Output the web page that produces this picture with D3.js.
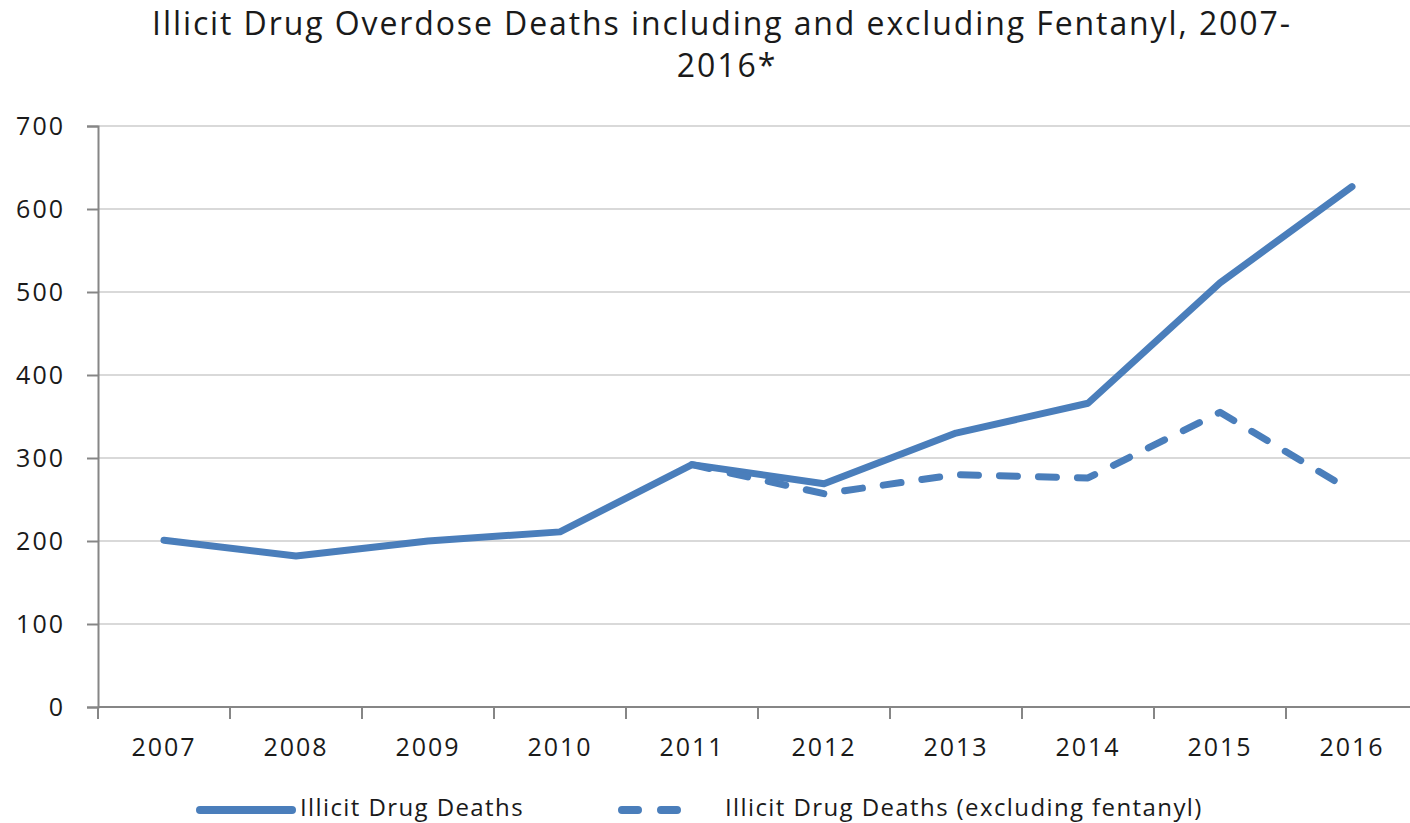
<!DOCTYPE html>
<html>
<head>
<meta charset="utf-8">
<script src="https://cdn.jsdelivr.net/npm/d3@7"></script>
<style>
  body { margin: 0; background: #fff; }
  text { font-family: "Open Sans", sans-serif; fill: #1a1a1a; }
</style>
</head>
<body>
<div id="chart"></div>
<script>
// Data.
const years = ['2007','2008','2009','2010','2011','2012','2013','2014','2015','2016'];
const allDeaths = [201, 182, 200, 211, 292, 269, 330, 366, 511, 627];
const exclFentanyl = [null, null, null, null, 292, 257, 280, 276, 355, 260];
const yTicks = [0, 100, 200, 300, 400, 500, 600, 700];
const titleLines = ['Illicit Drug Overdose Deaths including and excluding Fentanyl, 2007-', '2016*'];
const legendLabels = ['Illicit Drug Deaths', 'Illicit Drug Deaths (excluding fentanyl)'];

const width = 1410, height = 823;
const lineColor = '#4a7ebb';

let svg = d3.select('#chart')
.append('svg')
.attr('width', width)
.attr('height', height);

// Plot area.
let plot = {left: 98, right: 1418, top: 126, bottom: 707};

let x = d3.scaleBand()
.domain(years)
.range([plot.left, plot.right])
.padding(0);

let y = d3.scaleLinear()
.domain([0, 700])
.range([plot.bottom, plot.top]);

const cx = d => x(d) + x.bandwidth() / 2;

// Title.
svg.append('g')
.selectAll('text')
.data(titleLines)
.enter()
.append('text')
.attr('x', (d, i) => i === 0 ? 722 : 727)
.attr('y', (d, i) => i === 0 ? 35 : 77)
.attr('text-anchor', 'middle')
.style('font-size', '32px')
.style('letter-spacing', '1.9px')
.text(d => d);

// Gridlines.
svg.append('g')
.selectAll('line')
.data(yTicks.filter(t => t > 0))
.enter()
.append('line')
.attr('x1', plot.left)
.attr('x2', plot.right)
.attr('y1', d => y(d))
.attr('y2', d => y(d))
.attr('stroke', '#d9d9d9')
.attr('stroke-width', 2);

// Y axis.
let yAxis = svg.append('g')
.attr('transform', 'translate(' + plot.left + ',0)')
.call(d3.axisLeft(y).tickValues(yTicks).tickSize(11).tickPadding(22));
yAxis.selectAll('line, path').attr('stroke', '#868686').attr('stroke-width', 2);
yAxis.selectAll('text')
.style('font-size', '25px')
.style('letter-spacing', '2px')
.style('font-family', '"Open Sans", sans-serif')
.attr('fill', '#1a1a1a');

// X axis: tick marks at category boundaries.
let xAxis = svg.append('g')
.attr('transform', 'translate(0,' + plot.bottom + ')');
xAxis.append('line')
.attr('x1', plot.left)
.attr('x2', plot.right)
.attr('stroke', '#868686')
.attr('stroke-width', 2);
xAxis.selectAll('.tickmark')
.data(years)
.enter()
.append('line')
.attr('class', 'tickmark')
.attr('x1', d => x(d))
.attr('x2', d => x(d))
.attr('y1', 0)
.attr('y2', 12)
.attr('stroke', '#868686')
.attr('stroke-width', 2);
xAxis.selectAll('.label')
.data(years)
.enter()
.append('text')
.attr('class', 'label')
.attr('x', d => cx(d))
.attr('y', 49)
.attr('text-anchor', 'middle')
.style('font-size', '25px')
.style('letter-spacing', '2px')
.text(d => d);

// Lines.
let line = d3.line()
.defined(d => d.v !== null)
.x(d => cx(d.year))
.y(d => y(d.v));

svg.append('path')
.datum(years.map((yr, i) => ({year: yr, v: allDeaths[i]})))
.attr('d', line)
.attr('fill', 'none')
.attr('stroke', lineColor)
.attr('stroke-width', 7)
.attr('stroke-linecap', 'round')
.attr('stroke-linejoin', 'round');

svg.append('path')
.datum(years.map((yr, i) => ({year: yr, v: exclFentanyl[i]})))
.attr('d', line)
.attr('fill', 'none')
.attr('stroke', lineColor)
.attr('stroke-width', 7)
.attr('stroke-dasharray', '18,21')
.attr('stroke-linecap', 'round')
.attr('stroke-linejoin', 'round');

// Legend.
let legend = svg.append('g');
legend.append('line')
.attr('x1', 200).attr('x2', 292)
.attr('y1', 810).attr('y2', 810)
.attr('stroke', lineColor)
.attr('stroke-width', 8)
.attr('stroke-linecap', 'round');
legend.append('text')
.attr('x', 300).attr('y', 816)
.style('font-size', '24px')
.style('letter-spacing', '1.4px')
.text(legendLabels[0]);
legend.append('line')
.attr('x1', 622).attr('x2', 680)
.attr('y1', 810).attr('y2', 810)
.attr('stroke', lineColor)
.attr('stroke-width', 8)
.attr('stroke-dasharray', '16,23')
.attr('stroke-linecap', 'round');
legend.append('text')
.attr('x', 725).attr('y', 816)
.style('font-size', '24px')
.style('letter-spacing', '1.4px')
.text(legendLabels[1]);
</script>
</body>
</html>
